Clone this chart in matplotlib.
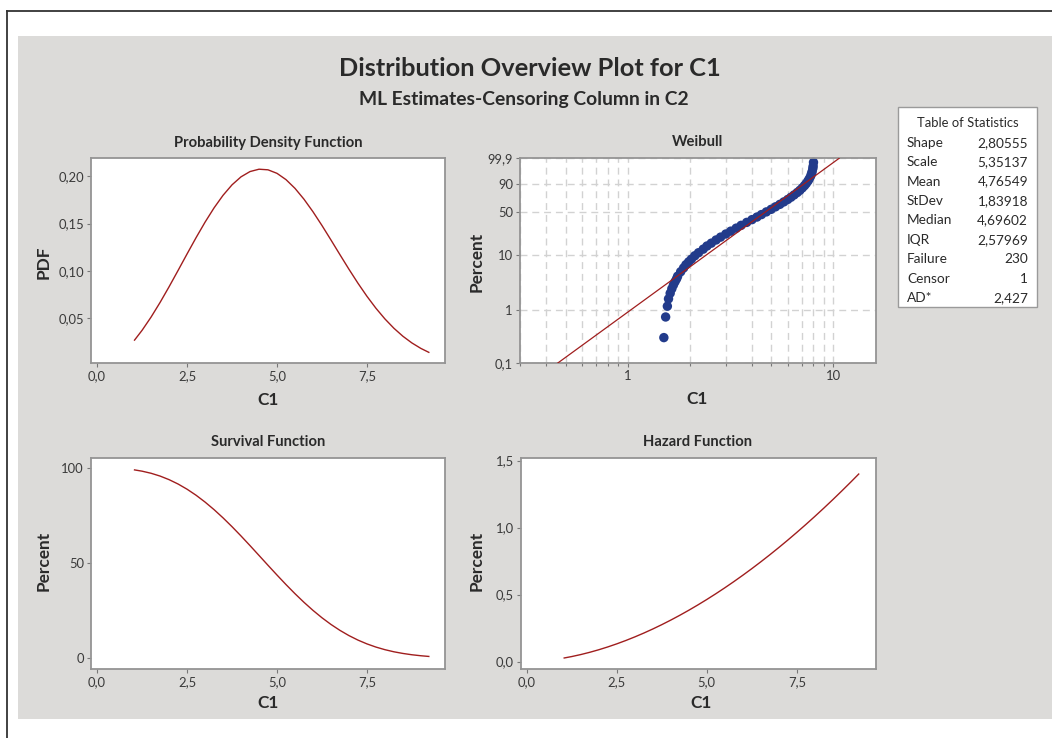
import matplotlib
matplotlib.use("Agg")
import matplotlib.pyplot as plt
import numpy as np
from matplotlib.patches import Rectangle
from matplotlib.lines import Line2D
from matplotlib.ticker import FixedLocator, FixedFormatter, NullFormatter

# ---------------- data ----------------
c1_grid = [1.04, 1.25, 1.5, 1.75, 2.0, 2.25, 2.5, 2.75, 3.0, 3.25, 3.5, 3.75,
           4.0, 4.25, 4.5, 4.75, 5.0, 5.25, 5.5, 5.75, 6.0, 6.25, 6.5, 6.75,
           7.0, 7.25, 7.5, 7.75, 8.0, 8.25, 8.5, 8.75, 9.0, 9.22]
pdf_vals = [0.02696, 0.03732, 0.05128, 0.06671, 0.08324, 0.10045, 0.11788, 0.13503,
            0.15139, 0.16646, 0.17974, 0.19080, 0.19925, 0.20481, 0.20729, 0.20665,
            0.20293, 0.19631, 0.18709, 0.17563, 0.16241, 0.14790, 0.13263, 0.11709,
            0.10176, 0.08702, 0.07322, 0.06060, 0.04932, 0.03946, 0.03103, 0.02397,
            0.01819, 0.01406]
survival_pct = [98.99, 98.32, 97.22, 95.75, 93.87, 91.58, 88.85, 85.69, 82.10, 78.13,
                73.80, 69.16, 64.28, 59.22, 54.06, 48.88, 43.76, 38.76, 33.96, 29.43,
                25.20, 21.32, 17.81, 14.69, 11.95, 9.59, 7.59, 5.92, 4.55, 3.44,
                2.57, 1.88, 1.36, 1.00]
hazard_vals = [0.02723, 0.03795, 0.05275, 0.06968, 0.08867, 0.10969, 0.13267, 0.15758,
               0.18439, 0.21306, 0.24356, 0.27588, 0.30997, 0.34583, 0.38342, 0.42274,
               0.46376, 0.50647, 0.55085, 0.59688, 0.64456, 0.69386, 0.74478, 0.79730,
               0.85141, 0.90710, 0.96436, 1.02317, 1.08354, 1.14545, 1.20888, 1.27384,
               1.34031, 1.40004]

# Weibull probability plot points (C1 value, percent)
wb_x = [1.50, 1.53, 1.56, 1.58, 1.61, 1.64, 1.67, 1.70, 1.73, 1.75,
        1.81, 1.87, 1.92, 1.98, 2.04, 2.12, 2.21, 2.33, 2.43, 2.55,
        2.69, 2.83, 3.00, 3.17, 3.37, 3.56, 3.79, 4.02, 4.25, 4.47,
        4.72, 4.98, 5.23, 5.49, 5.74, 6.00, 6.22, 6.44, 6.67, 6.87,
        7.06, 7.23, 7.37, 7.51, 7.62, 7.74, 7.82, 7.88, 7.94, 7.97, 8.00]
wb_pct = [0.3025, 0.7347, 1.1668, 1.5990, 2.0311, 2.4633, 2.8954, 3.3276, 3.7597, 4.1919,
          5.0562, 5.9205, 6.7848, 7.6491, 8.5134, 9.8099, 11.1063, 12.8349, 14.5635, 16.2921,
          18.4529, 20.6137, 23.2066, 25.7995, 28.8245, 31.8496, 35.3068, 38.7640, 42.2213, 45.6785,
          49.5678, 53.4572, 57.3466, 61.2359, 65.1253, 69.0147, 72.4719, 75.9291, 79.3863, 82.4114,
          85.4365, 88.0294, 90.1902, 92.3509, 94.0795, 95.8081, 97.1046, 97.9689, 98.8332, 99.2653,
          99.6975]
fit_x = [0.456, 10.66]
fit_pct = [0.1, 99.9]

lin_xticks = [0.0, 2.5, 5.0, 7.5]
lin_xticklabels = ["0,0", "2,5", "5,0", "7,5"]
pdf_yticks = [0.05, 0.10, 0.15, 0.20]
pdf_yticklabels = ["0,05", "0,10", "0,15", "0,20"]
surv_yticks = [0, 50, 100]
surv_yticklabels = ["0", "50", "100"]
haz_yticks = [0.0, 0.5, 1.0, 1.5]
haz_yticklabels = ["0,0", "0,5", "1,0", "1,5"]
wb_yticks = [0.1, 1, 10, 50, 90, 99.9]
wb_yticklabels = ["0,1", "1", "10", "50", "90", "99,9"]
wb_xmajor = [1, 10]
wb_xmajorlabels = ["1", "10"]
wb_xminor = [0.3, 0.4, 0.5, 0.6, 0.7, 0.8, 0.9, 2, 3, 4, 5, 6, 7, 8, 9]

stat_names = ["Shape", "Scale", "Mean", "StDev", "Median", "IQR", "Failure", "Censor", "AD*"]
stat_values = ["2,80555", "5,35137", "4,76549", "1,83918", "4,69602", "2,57969", "230", "1", "2,427"]

# ---------------- styling ----------------
plt.rcParams['font.family'] = ['Lato', 'DejaVu Sans']
W, H = 1052, 738
fig = plt.figure(figsize=(W / 100, H / 100), dpi=100)
fig.patch.set_facecolor('white')

BG = '#dcdbd9'
LINE = '#a01e1e'
DOT = '#223b8b'
SPINE = '#949494'
TXT = '#2a2a2a'
TICKTXT = '#3a3a3a'


def fx(px):
    return px / W


def fy(py):
    return 1 - py / H


# gray panel and outer frame
fig.patches.append(Rectangle((fx(18), fy(719)), 1 - fx(18), (719 - 36) / H,
                             transform=fig.transFigure, facecolor=BG, edgecolor='none', zorder=-5))
fig.lines.append(Line2D([fx(7), fx(7)], [0, fy(11)], transform=fig.transFigure,
                        color='#333333', lw=1.3, zorder=-4))
fig.lines.append(Line2D([fx(7), 1], [fy(11), fy(11)], transform=fig.transFigure,
                        color='#333333', lw=1.3, zorder=-4))


def make_ax(l, t, r, b):
    ax = fig.add_axes([fx(l), fy(b), (r - l) / W, (b - t) / H])
    ax.set_zorder(1)
    ax.set_facecolor('white')
    for s in ax.spines.values():
        s.set_color(SPINE)
        s.set_linewidth(1.3)
    ax.tick_params(which='both', length=3, width=0.8, color='#777777',
                   labelcolor=TICKTXT, labelsize=9.4, pad=2)
    ax.tick_params(which='minor', length=2)
    return ax


def label(x, y, s, size, rot=0, weight='bold'):
    fig.text(fx(x), fy(y), s, ha='center', va='center', fontsize=size,
             fontweight=weight, color=TXT, rotation=rot)


# ---- PDF
ax1 = make_ax(91, 158.3, 445, 363.3)
ax1.plot(c1_grid, pdf_vals, color=LINE, lw=1.0)
ax1.set_xlim(-0.17, 9.67)
ax1.set_ylim(0.0025, 0.2188)
ax1.xaxis.set_major_locator(FixedLocator(lin_xticks))
ax1.xaxis.set_major_formatter(FixedFormatter(lin_xticklabels))
ax1.yaxis.set_major_locator(FixedLocator(pdf_yticks))
ax1.yaxis.set_major_formatter(FixedFormatter(pdf_yticklabels))

# ---- Weibull
ax2 = make_ax(520, 158.3, 876, 363.3)


def wfwd(p):
    p = np.clip(np.asarray(p, dtype=float), 1e-9, 100 - 1e-9)
    return np.log(-np.log(1 - p / 100.0))


def winv(y):
    return 100.0 * (1 - np.exp(-np.exp(np.asarray(y, dtype=float))))


ax2.set_xscale('log')
ax2.set_yscale('function', functions=(wfwd, winv))
ax2.set_xlim(0.3, 16.1)
ax2.set_ylim(0.1, 99.9)
ax2.xaxis.set_major_locator(FixedLocator(wb_xmajor))
ax2.xaxis.set_major_formatter(FixedFormatter(wb_xmajorlabels))
ax2.xaxis.set_minor_locator(FixedLocator(wb_xminor))
ax2.xaxis.set_minor_formatter(NullFormatter())
ax2.yaxis.set_major_locator(FixedLocator(wb_yticks))
ax2.yaxis.set_major_formatter(FixedFormatter(wb_yticklabels))
ax2.yaxis.set_minor_locator(FixedLocator([]))
ax2.grid(True, which='both', color='#d2d2d2', lw=1.0, ls=(0, (5, 3.5)))
ax2.set_axisbelow(True)
ax2.plot(fit_x, fit_pct, color=LINE, lw=0.9, zorder=3)
ax2.scatter(wb_x, wb_pct, s=46, color=DOT, edgecolors='none', zorder=2, clip_on=False)

# ---- Survival
ax3 = make_ax(91, 457.7, 445, 669)
ax3.plot(c1_grid, survival_pct, color=LINE, lw=1.0)
ax3.set_xlim(-0.17, 9.67)
ax3.set_ylim(-5.6, 105.4)
ax3.xaxis.set_major_locator(FixedLocator(lin_xticks))
ax3.xaxis.set_major_formatter(FixedFormatter(lin_xticklabels))
ax3.yaxis.set_major_locator(FixedLocator(surv_yticks))
ax3.yaxis.set_major_formatter(FixedFormatter(surv_yticklabels))

# ---- Hazard
ax4 = make_ax(521, 457.7, 876, 669)
ax4.plot(c1_grid, hazard_vals, color=LINE, lw=1.0)
ax4.set_xlim(-0.16, 9.7)
ax4.set_ylim(-0.055, 1.522)
ax4.xaxis.set_major_locator(FixedLocator(lin_xticks))
ax4.xaxis.set_major_formatter(FixedFormatter(lin_xticklabels))
ax4.yaxis.set_major_locator(FixedLocator(haz_yticks))
ax4.yaxis.set_major_formatter(FixedFormatter(haz_yticklabels))

# ---- titles and labels
label(530, 68, "Distribution Overview Plot for C1", 18.3)
label(524, 100, "ML Estimates-Censoring Column in C2", 13.9)
label(268, 142.5, "Probability Density Function", 10.6)
label(698, 142.5, "Weibull", 10.6)
label(268, 442, "Survival Function", 10.6)
label(698, 442, "Hazard Function", 10.6)
label(268, 400, "C1", 12.4)
label(697, 399, "C1", 12.4)
label(268, 703, "C1", 12.4)
label(701, 703, "C1", 12.4)
label(43.5, 262.5, "PDF", 12.4, rot=90)
label(476.5, 262, "Percent", 12.4, rot=90)
label(43.5, 561, "Percent", 12.4, rot=90)
label(476.5, 561, "Percent", 12.4, rot=90)

# ---- table of statistics
fig.patches.append(Rectangle((fx(898), fy(307)), (1037 - 898) / W, (307 - 107) / H,
                             transform=fig.transFigure, facecolor='white',
                             edgecolor='#9a9a9a', lw=1.0, zorder=1))
fig.text(fx(968), fy(123), "Table of Statistics", ha='center', va='center',
         fontsize=9.4, color=TXT)
for i, (n, v) in enumerate(zip(stat_names, stat_values)):
    yy = 142.7 + i * 19.45
    fig.text(fx(907), fy(yy), n, ha='left', va='center', fontsize=9.8, color=TXT)
    fig.text(fx(1028), fy(yy), v, ha='right', va='center', fontsize=9.8, color=TXT)

fig.savefig("out.png", dpi=100, facecolor=fig.get_facecolor())
